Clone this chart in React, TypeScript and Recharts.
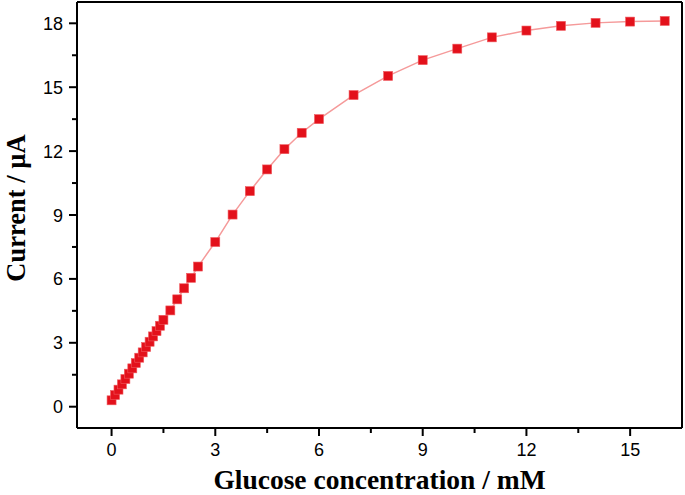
import React from 'react';
import { LineChart, Line, XAxis, YAxis, ReferenceLine } from 'recharts';

// glucose concentration (mM) and response current (µA)
const concentration = [
  0, 0.1, 0.2, 0.3, 0.4, 0.5, 0.6, 0.7, 0.8, 0.9, 1.0, 1.1, 1.2, 1.3, 1.4, 1.5,
  1.7, 1.9, 2.1, 2.3, 2.5, 3, 3.5, 4, 4.5, 5, 5.5, 6, 7, 8, 9, 10, 11, 12, 13, 14, 15, 16,
];
const current = [
  0.3, 0.55, 0.8, 1.05, 1.3, 1.55, 1.8, 2.05, 2.3, 2.55, 2.8, 3.05, 3.3, 3.55, 3.8, 4.08,
  4.52, 5.04, 5.56, 6.05, 6.58, 7.73, 9.02, 10.12, 11.14, 12.09, 12.86, 13.5, 14.63, 15.53,
  16.27, 16.81, 17.34, 17.66, 17.88, 18.02, 18.08, 18.11,
];
const xTicks = [0, 1.5, 3, 4.5, 6, 7.5, 9, 10.5, 12, 13.5, 15];
const yTicks = [0, 1.5, 3, 4.5, 6, 7.5, 9, 10.5, 12, 13.5, 15, 16.5, 18];

const data = concentration.map((c, i) => ({ c, i: current[i] }));

const tickFont = '"Liberation Sans", Arial, sans-serif';
const titleFont = '"Liberation Serif", "Times New Roman", serif';

const isMajor = (v: number) => Math.abs(v % 3) < 1e-6;

const XTick = (props: any) => {
  const { x, y, payload } = props;
  const major = isMajor(payload.value);
  return (
    <g>
      <line x1={x} x2={x} y1={y} y2={y + (major ? 8 : 5)} stroke="#000" strokeWidth={2} />
      {major && (
        <text x={x} y={y + 28} textAnchor="middle" fontSize={18} fontFamily={tickFont} fill="#000">
          {payload.value}
        </text>
      )}
    </g>
  );
};

const YTick = (props: any) => {
  const { x, y, payload } = props;
  const major = isMajor(payload.value);
  return (
    <g>
      <line x1={x} x2={x - (major ? 8 : 5)} y1={y} y2={y} stroke="#000" strokeWidth={2} />
      {major && (
        <text x={x - 14} y={y + 6.5} textAnchor="end" fontSize={18} fontFamily={tickFont} fill="#000">
          {payload.value}
        </text>
      )}
    </g>
  );
};

const SquareDot = (props: any) => {
  const { cx, cy } = props;
  if (cx == null || cy == null) return null;
  return <rect x={cx - 4.5} y={cy - 4.5} width={9} height={9} fill="#e3111b" stroke="#f05a5f" strokeWidth={0.6} />;
};

const YTitle = (props: any) => {
  const vb = props.viewBox || {};
  const cy = (vb.y ?? 2) + (vb.height ?? 426) / 2 - 7;
  return (
    <text
      transform={`translate(25, ${cy}) rotate(-90)`}
      textAnchor="middle"
      fontFamily={titleFont}
      fontWeight="bold"
      fontSize={26.5}
      fill="#000"
    >
      Current / µA
    </text>
  );
};

export default function App() {
  return (
    <div style={{ position: 'absolute', left: 0, top: 0, background: '#fff' }}>
      <LineChart width={685} height={495} data={data} margin={{ top: 2, right: 3, left: 0, bottom: 0 }}>
        <XAxis
          dataKey="c"
          type="number"
          domain={[-1, 16.5]}
          ticks={xTicks}
          interval={0}
          tickSize={0}
          tickMargin={0}
          tickLine={false}
          tick={<XTick />}
          height={67}
          axisLine={{ stroke: '#000', strokeWidth: 2 }}
          allowDataOverflow
          label={{
            value: 'Glucose concentration / mM',
            position: 'insideBottom',
            offset: 6,
            style: { fontFamily: titleFont, fontWeight: 'bold', fontSize: 27.5, fill: '#000' },
          }}
        />
        <YAxis
          type="number"
          domain={[-1, 19]}
          ticks={yTicks}
          interval={0}
          tickSize={0}
          tickMargin={0}
          tickLine={false}
          tick={<YTick />}
          width={77}
          axisLine={{ stroke: '#000', strokeWidth: 2 }}
          allowDataOverflow
          label={<YTitle />}
        />
        <ReferenceLine y={19} stroke="#000" strokeWidth={2} ifOverflow="visible" />
        <ReferenceLine x={16.5} stroke="#000" strokeWidth={2} ifOverflow="visible" />
        <Line
          dataKey="i"
          type="linear"
          stroke="#f59a9a"
          strokeWidth={1.5}
          dot={<SquareDot />}
          activeDot={false}
          isAnimationActive={false}
        />
      </LineChart>
    </div>
  );
}
